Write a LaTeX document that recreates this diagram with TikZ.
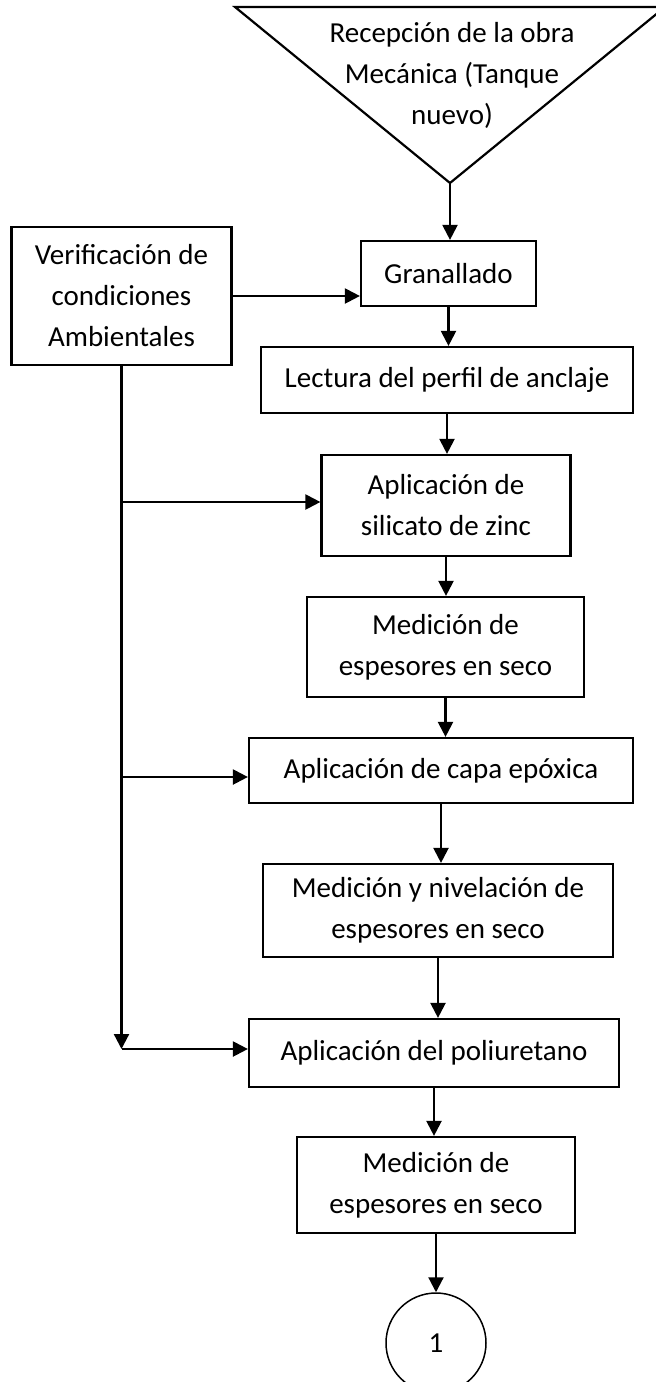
\documentclass[tikz,border=0pt]{standalone}
\usepackage{fontspec}
\setmainfont{Carlito}
\usetikzlibrary{arrows.meta}
\begin{document}
\begin{tikzpicture}[x=1pt,y=-1pt,
  every node/.style={font=\fontsize{29}{41}\selectfont, inner sep=0pt},
  proc/.style={draw, line width=2.2pt, align=center},
  plain/.style={line width=2.2pt},
  link/.style={line width=2.2pt, -{Triangle[length=15pt,width=15pt]}}]

\useasboundingbox (0,0) rectangle (656,1382);

% start symbol (inverted triangle), cut by the right page edge
\coordinate (tl) at (235,7);
\coordinate (tr) at (665,7);
\coordinate (apex) at (450,183);
\begin{scope}
  \clip (0,0) rectangle (656,1382);
  \draw[plain, line join=miter] (tl) -- (tr) -- (apex) -- cycle;
  \node[draw, circle, line width=1.5pt, minimum size=100pt] (circ) at (436,1343) {1};
\end{scope}
\node[align=center] (tri) at (452,75) {Recepción de la obra\\Mecánica (Tanque\\nuevo)};

% process boxes
\node[proc, minimum width=220pt, minimum height=138pt] (verif) at (121.5,296)
  {Verificación de\\condiciones\\Ambientales};
\node[proc, minimum width=175pt, minimum height=65pt] (gran) at (448.5,273.5) {Granallado};
\node[proc, minimum width=372pt, minimum height=66pt] (lect) at (447,380) {Lectura del perfil de anclaje};
\node[proc, minimum width=249pt, minimum height=101pt] (sil) at (446,505.5) {Aplicación de\\silicato de zinc};
\node[proc, minimum width=277pt, minimum height=100pt] (med1) at (445.5,647) {Medición de\\espesores en seco};
\node[proc, minimum width=384pt, minimum height=65pt] (epox) at (441,770.5) {Aplicación de capa epóxica};
\node[proc, minimum width=350pt, minimum height=93pt] (niv) at (438,910.5) {Medición y nivelación de\\espesores en seco};
\node[proc, minimum width=370pt, minimum height=68pt] (poli) at (434,1053) {Aplicación del poliuretano};
\node[proc, minimum width=278pt, minimum height=96pt] (medf) at (436,1185) {Medición de\\espesores en seco};

% main flow
\draw[link] (apex) -- (apex |- gran.north);
\draw[link] (verif.east) -- (verif.east -| gran.west);
\draw[link] (gran.south) -- (gran.south |- lect.north);
\draw[link] (lect.south) -- (lect.south |- sil.north);
\draw[link] (sil.south) -- (sil.south |- med1.north);
\draw[link] (med1.south) -- (med1.south |- epox.north);
\draw[link] (epox.south) -- (epox.south |- niv.north);
\draw[link] (niv.south) -- (niv.south |- poli.north);
\draw[link] (poli.south) -- (poli.south |- medf.north);
\draw[link] (medf.south) -- (medf.south |- circ.north);

% ambient-conditions trunk and its branches
\coordinate (j1) at (121.5,502);
\coordinate (j2) at (121.5,777);
\coordinate (j3) at (121.5,1049);
\draw[link] (verif.south) -- (j3);
\draw[link] (j1) -- (j1 -| sil.west);
\draw[link] (j2) -- (j2 -| epox.west);
\draw[link] (j3) -- (j3 -| poli.west);
\end{tikzpicture}
\end{document}
